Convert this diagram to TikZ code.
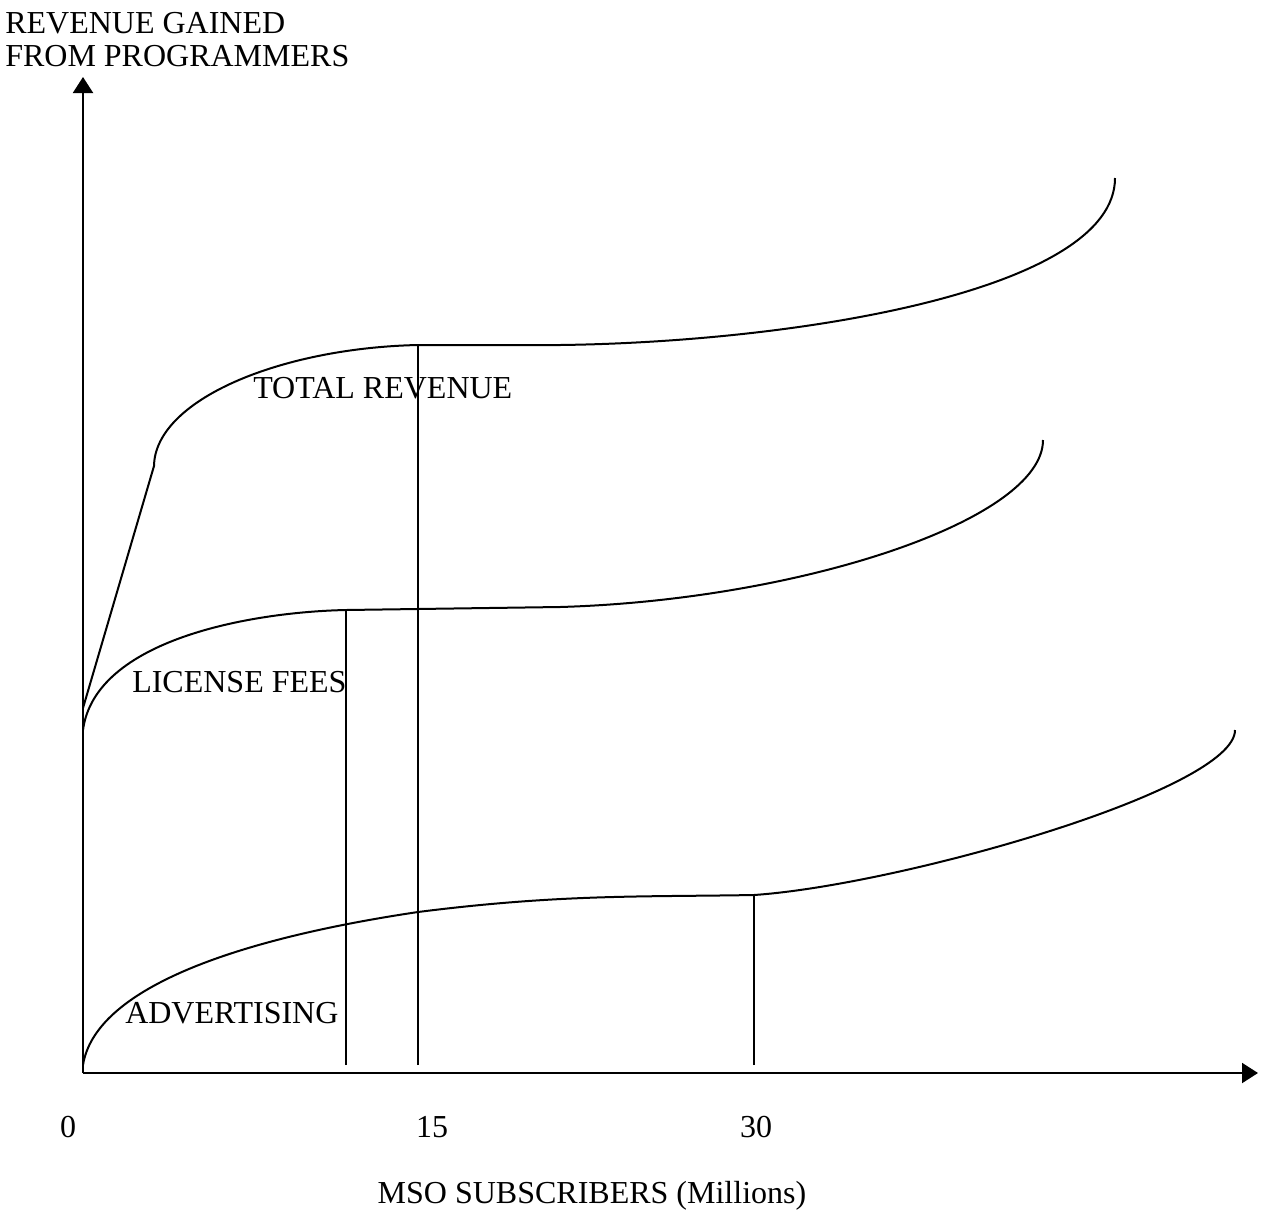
\documentclass[tikz,border=0pt]{standalone}
\usepackage{fontspec}
\setmainfont{Liberation Serif}
\usetikzlibrary{arrows.meta}

\tikzset{
  axis/.style={line width=1.5pt,-{Triangle[length=12pt,width=15pt]}},
  curve/.style={line width=1.5pt},
  drop/.style={line width=1.5pt},
  lbl/.style={inner sep=0pt,font=\fontsize{24}{25}\selectfont}
}

\begin{document}
\begin{tikzpicture}[x=0.75pt,y=0.75pt,yscale=-1,xscale=1]
\useasboundingbox (0,0) rectangle (1264,1218);

% points on the curves
\coordinate (O) at (83,1073);
\coordinate (ytip) at (83,77);
\coordinate (xtip) at (1258,1073);
\coordinate (adv0) at (83,1065);
\coordinate (adv15) at (418,912);
\coordinate (adv30) at (754,895);
\coordinate (advend) at (1235,730);
\coordinate (lic0) at (83,730);
\coordinate (lic12) at (346,610);
\coordinate (lic20) at (560,607);
\coordinate (licend) at (1043,440);
\coordinate (tot0) at (83,708);
\coordinate (totk) at (154,466);
\coordinate (tot15) at (418,345);
\coordinate (tot20) at (560,345);
\coordinate (totend) at (1115,178);
\coordinate (b12) at (346,1065);
\coordinate (b15) at (418,1065);
\coordinate (b30) at (754,1065);

%Axes
\draw [axis] (O) -- (ytip) ;
\draw [axis] (O) -- (xtip) ;

%Curve Lines -- advertising
\draw [curve] (adv0) .. controls (95,990) and (230,940) .. (adv15) .. controls (560,894) and (640,897) .. (adv30) .. controls (900,885) and (1235,790) .. (advend) ;
%Curve Lines -- license fees
\draw [curve] (lic0) .. controls (95,640) and (250,612) .. (lic12) -- (lic20) .. controls (800,600) and (1043,520) .. (licend) ;
%Curve Lines -- total revenue
\draw [curve] (tot0) -- (totk) .. controls (155,400) and (280,348) .. (tot15) -- (tot20) .. controls (800,342) and (1115,290) .. (totend) ;

%Straight Lines
\draw [drop] (b12) -- (lic12) ;
\draw [drop] (b15) -- (tot15) ;
\draw [drop] (b30) -- (adv30) ;

% Text Node
\node [lbl,anchor=north west,align=left] (ylabel) at (5,12) {REVENUE GAINED\\FROM PROGRAMMERS};
% Text Node
\node [lbl,anchor=base west] (totlbl) at (253,398) {TOTAL REVENUE};
% Text Node
\node [lbl,anchor=base west] (liclbl) at (132,692) {LICENSE FEES};
% Text Node
\node [lbl,anchor=base west] (advlbl) at (125,1023) {ADVERTISING};
% Text Node
\node [lbl,anchor=base] (t0) at (68,1137) {0};
% Text Node
\node [lbl,anchor=base] (t15) at (432,1137) {15};
% Text Node
\node [lbl,anchor=base] (t30) at (756,1137) {30};
% Text Node
\node [lbl,anchor=base] (xlabel) at (592,1203) {MSO SUBSCRIBERS (Millions)};

\end{tikzpicture}
\end{document}
